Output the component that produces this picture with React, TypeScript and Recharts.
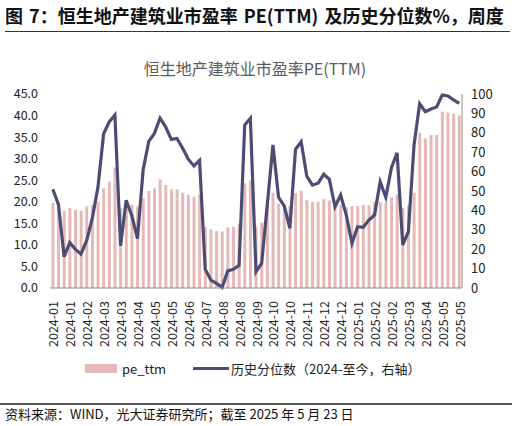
import React from "react";
import { ComposedChart, Bar, Line, XAxis, YAxis } from "recharts";

const weeks = [
  "2024-01-05", "2024-01-12", "2024-01-19", "2024-01-26", "2024-02-02", "2024-02-09",
  "2024-02-16", "2024-02-23", "2024-03-01", "2024-03-08", "2024-03-15", "2024-03-22",
  "2024-03-29", "2024-04-05", "2024-04-12", "2024-04-19", "2024-04-26", "2024-05-03",
  "2024-05-10", "2024-05-17", "2024-05-24", "2024-05-31", "2024-06-07", "2024-06-14",
  "2024-06-21", "2024-06-28", "2024-07-05", "2024-07-12", "2024-07-19", "2024-07-26",
  "2024-08-02", "2024-08-09", "2024-08-16", "2024-08-23", "2024-08-30", "2024-09-06",
  "2024-09-13", "2024-09-20", "2024-09-27", "2024-10-04", "2024-10-11", "2024-10-18",
  "2024-10-25", "2024-11-01", "2024-11-08", "2024-11-15", "2024-11-22", "2024-11-29",
  "2024-12-06", "2024-12-13", "2024-12-20", "2024-12-27", "2025-01-03", "2025-01-10",
  "2025-01-17", "2025-01-24", "2025-01-31", "2025-02-07", "2025-02-14", "2025-02-21",
  "2025-02-28", "2025-03-07", "2025-03-14", "2025-03-21", "2025-03-28", "2025-04-04",
  "2025-04-11", "2025-04-18", "2025-04-25", "2025-05-02", "2025-05-09", "2025-05-16",
  "2025-05-23",
];

// 市盈率 PE(TTM)，左轴
const peTtm = [
  19.8, 18.4, 17.9, 18.6, 18.1, 17.9, 18.9, 19.3, 20.0, 23.1, 24.7, 28.0,
  18.5, 19.4, 19.3, 18.9, 20.8, 22.5, 23.1, 25.2, 23.9, 22.9, 22.9, 22.1,
  21.6, 21.2, 21.6, 14.2, 13.6, 13.2, 13.1, 14.1, 14.2, 14.8, 24.3, 24.9,
  14.2, 15.2, 19.5, 22.1, 19.6, 19.3, 19.0, 22.0, 22.6, 20.4, 20.0, 20.0,
  20.6, 20.3, 19.5, 19.3, 18.7, 19.0, 19.0, 19.3, 19.2, 20.0, 19.9, 19.8,
  21.0, 21.7, 18.6, 19.0, 22.1, 36.0, 34.7, 35.5, 35.5, 40.9, 40.7, 40.4,
  40.0,
];

// 历史分位数（2024-至今），右轴
const percentile = [
  50.9, 43.0, 16.1, 23.4, 19.9, 17.5, 24.5, 36.0, 52.0, 79.5, 85.7, 89.2,
  21.8, 45.2, 37.2, 25.5, 60.8, 75.6, 79.7, 87.6, 83.0, 76.6, 77.1, 72.0,
  66.4, 62.9, 65.8, 9.7, 4.1, 2.4, 0.3, 8.8, 9.6, 11.7, 84.0, 87.5,
  8.4, 12.7, 43.0, 73.7, 46.7, 42.3, 30.8, 71.5, 75.4, 57.7, 53.1, 54.0,
  58.6, 56.0, 41.9, 47.9, 37.6, 23.0, 31.6, 31.3, 35.0, 37.6, 54.8, 46.7,
  62.0, 69.7, 22.2, 29.0, 73.7, 95.0, 90.9, 92.3, 93.3, 99.5, 99.0, 97.0,
  95.2,
];

const leftTicks = [0, 5, 10, 15, 20, 25, 30, 35, 40, 45];
const rightTicks = [0, 10, 20, 30, 40, 50, 60, 70, 80, 90, 100];

const data = weeks.map((w, i) => ({ week: w, pe: peTtm[i], pct: percentile[i] }));

const FONT = '"Noto Sans CJK SC", "Noto Sans", sans-serif';
const BAR_COLOR = "#e6b9b8";
const LINE_COLOR = "#4d4c74";

function DateTick(props: any) {
  const { x, y, payload } = props;
  return (
    <text
      x={0}
      y={0}
      transform={`translate(${x},${y + 5}) rotate(-90)`}
      textAnchor="end"
      dominantBaseline="central"
      fontSize={12.5}
      fill="#222"
      fontFamily={FONT}
    >
      {String(payload.value).slice(0, 7)}
    </text>
  );
}

export default function App() {
  return (
    <div
      style={{
        position: "absolute",
        left: 0,
        top: 0,
        width: 516,
        height: 426,
        background: "#fff",
        fontFamily: FONT,
        overflow: "hidden",
      }}
    >
      <div
        style={{
          position: "absolute",
          left: 5,
          top: 2,
          fontSize: 18,
          fontWeight: 700,
          color: "#111",
          whiteSpace: "nowrap",
          wordSpacing: 2,
        }}
      >
        图 7：恒生地产建筑业市盈率 PE(TTM) 及历史分位数%，周度
      </div>
      <div style={{ position: "absolute", left: 5, top: 31, width: 505, height: 1, background: "#333" }} />
      <div
        style={{
          position: "absolute",
          left: 0,
          top: 56,
          width: 510,
          textAlign: "center",
          fontSize: 16,
          color: "#5a5a5a",
        }}
      >
        恒生地产建筑业市盈率PE(TTM)
      </div>

      <div style={{ position: "absolute", left: 0, top: 80 }}>
        <ComposedChart
          width={516}
          height={270}
          data={data}
          margin={{ top: 14, right: 0, bottom: 0, left: 0 }}
          barCategoryGap="25%"
        >
          <XAxis
            dataKey="week"
            interval={2}
            tick={<DateTick />}
            tickLine={false}
            axisLine={{ stroke: "#8c8c8c" }}
            height={62}
          />
          <YAxis
            yAxisId="left"
            domain={[0, 45]}
            ticks={leftTicks}
            interval={0}
            tickFormatter={(v: number) => v.toFixed(1)}
            axisLine={false}
            tickLine={false}
            tickSize={0}
            tickMargin={12}
            width={50}
            tick={{ fontSize: 12.5, fill: "#222", fontFamily: FONT }}
          />
          <YAxis
            yAxisId="right"
            orientation="right"
            domain={[0, 100]}
            ticks={rightTicks}
            interval={0}
            axisLine={{ stroke: "#8c8c8c" }}
            tickLine={false}
            tickSize={0}
            tickMargin={9}
            width={54}
            tick={{ fontSize: 13, fill: "#222", fontFamily: FONT, textAnchor: "start" }}
          />
          <Bar yAxisId="left" dataKey="pe" fill={BAR_COLOR} isAnimationActive={false} />
          <Line
            yAxisId="right"
            dataKey="pct"
            stroke={LINE_COLOR}
            strokeWidth={3.2}
            dot={false}
            isAnimationActive={false}
          />
        </ComposedChart>
      </div>

      <div
        style={{
          position: "absolute",
          top: 359,
          left: 85,
          display: "flex",
          alignItems: "center",
          fontSize: 13,
          color: "#222",
          whiteSpace: "nowrap",
        }}
      >
        <span style={{ display: "inline-block", width: 32, height: 9, background: BAR_COLOR, marginRight: 5 }} />
        <span>pe_ttm</span>
        <span
          style={{ display: "inline-block", width: 36, height: 3, background: LINE_COLOR, marginLeft: 27, marginRight: 2 }}
        />
        <span>历史分位数（2024-至今，右轴）</span>
      </div>

      <div style={{ position: "absolute", left: 0, top: 403, width: 512, height: 1.5, background: "#555" }} />
      <div style={{ position: "absolute", left: 5, top: 404, fontSize: 13, color: "#111", whiteSpace: "nowrap" }}>
        资料来源：WIND，光大证券研究所；截至 2025 年 5 月 23 日
      </div>
    </div>
  );
}
